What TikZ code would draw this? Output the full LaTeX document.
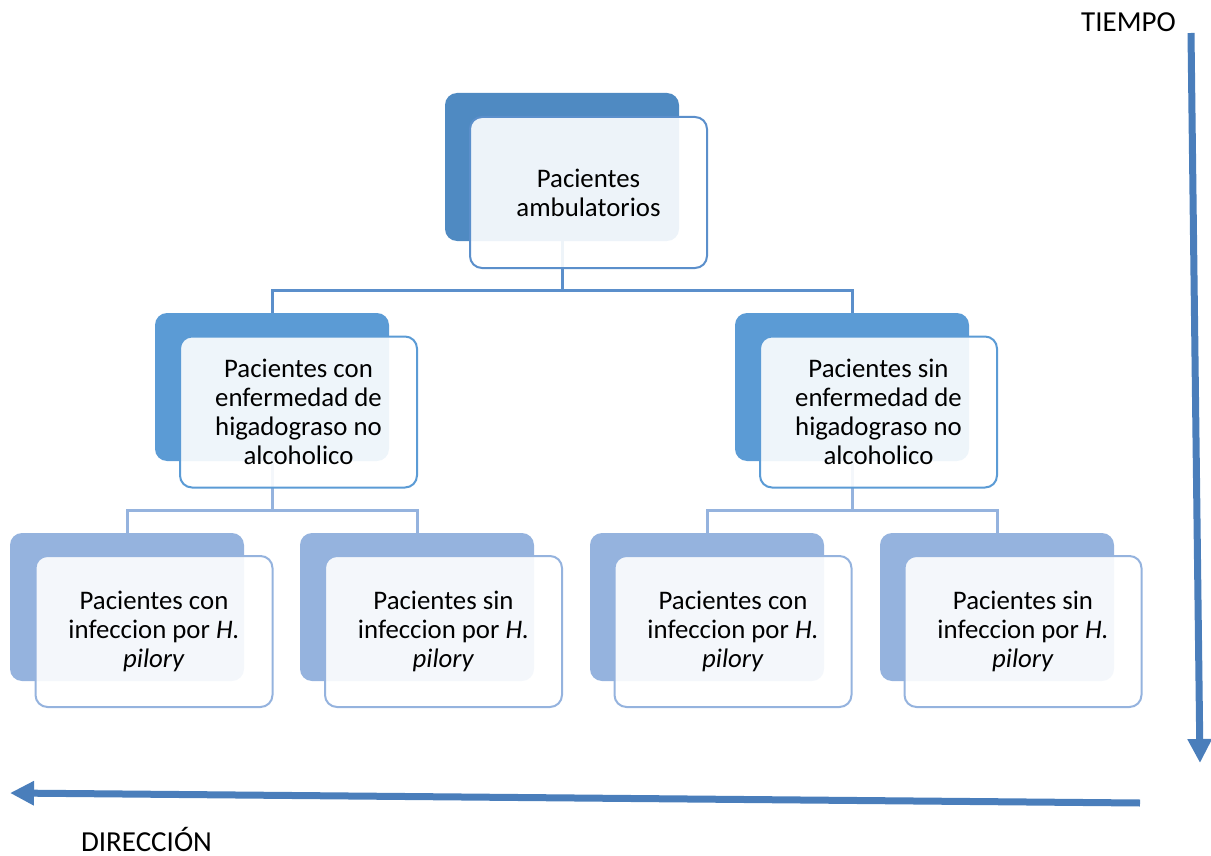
\documentclass[tikz,border=0pt]{standalone}
\usepackage{fontspec}
\setmainfont{Carlito}
\usetikzlibrary{arrows.meta}
\definecolor{backA}{HTML}{4F8AC2}
\definecolor{backB}{HTML}{5B9BD5}
\definecolor{backC}{HTML}{95B3DE}
\definecolor{lineA}{HTML}{5B8FCB}
\definecolor{lineB}{HTML}{95B3DE}
\definecolor{arrowc}{HTML}{4A7EBB}
\tikzset{
  backbox/.style={rounded corners=12pt, minimum width=234pt, minimum height=148pt, inner sep=0pt},
  frontbox/.style={rounded corners=12pt, minimum width=237pt, minimum height=151pt, inner sep=0pt,
     fill=white, fill opacity=0.9, text opacity=1, line width=2pt, align=center,
     font=\fontsize{26.8pt}{29pt}\selectfont},
  conn/.style={line width=3pt},
  bigarrow/.style={draw=arrowc, line width=7pt, -{Triangle[width=23pt,length=24pt]}},
  lbl/.style={font=\fontsize{29pt}{32pt}\selectfont, inner sep=0pt, anchor=base}
}
\begin{document}
\begin{tikzpicture}[x=1pt,y=-1pt]
\useasboundingbox (0,0) rectangle (1211,856);
% back boxes
\node[backbox, fill=backA] (b0) at (562,167) {};
\node[backbox, fill=backB] (b1) at (272,387) {};
\node[backbox, fill=backB] (b2) at (852,387) {};
\node[backbox, fill=backC] (b11) at (127,607) {};
\node[backbox, fill=backC] (b12) at (417,607) {};
\node[backbox, fill=backC] (b21) at (707,607) {};
\node[backbox, fill=backC] (b22) at (997,607) {};
% connectors
\draw[conn, lineA] (b0.south) -- ++(0,49) -| (b1.north);
\draw[conn, lineA] (b0.south) -- ++(0,49) -| (b2.north);
\draw[conn, lineB] (b1.south) -- ++(0,49) -| (b11.north);
\draw[conn, lineB] (b1.south) -- ++(0,49) -| (b12.north);
\draw[conn, lineB] (b2.south) -- ++(0,49) -| (b21.north);
\draw[conn, lineB] (b2.south) -- ++(0,49) -| (b22.north);
% front boxes
\node[frontbox, draw=lineA] (f0) at (588.5,192.5) {Pacientes\\ambulatorios};
\node[frontbox, draw=backB] (f1) at (298.5,412) {Pacientes con\\enfermedad de\\higadograso no\\alcoholico};
\node[frontbox, draw=backB] (f2) at (878.5,412) {Pacientes sin\\enfermedad de\\higadograso no\\alcoholico};
\node[frontbox, draw=lineB] (f11) at (154,631.5) {Pacientes con\\infeccion por \textit{H.}\\\textit{pilory}};
\node[frontbox, draw=lineB] (f12) at (443.5,631.5) {Pacientes sin\\infeccion por \textit{H.}\\\textit{pilory}};
\node[frontbox, draw=lineB] (f21) at (733,631.5) {Pacientes con\\infeccion por \textit{H.}\\\textit{pilory}};
\node[frontbox, draw=lineB] (f22) at (1023,631.5) {Pacientes sin\\infeccion por \textit{H.}\\\textit{pilory}};
% arrows
\coordinate (t1) at (1191,33);
\coordinate (t2) at (1200,763);
\draw[bigarrow] (t1) -- (t2);
\coordinate (d1) at (1140,803);
\coordinate (d2) at (10,793);
\draw[bigarrow] (d1) -- (d2);
% labels
\node[lbl] (tiempo) at (1128.5,32) {TIEMPO};
\node[lbl] (dir) at (146.5,851) {DIRECCIÓN};
\end{tikzpicture}
\end{document}
